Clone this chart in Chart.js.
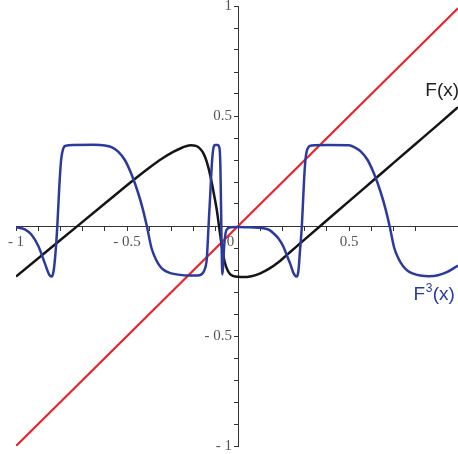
<!DOCTYPE html>
<html>
<head>
<meta charset="utf-8">
<script src="https://cdn.jsdelivr.net/npm/chart.js@4"></script>
<style>
html,body{margin:0;padding:0;background:#fff;}
#wrap{width:458px;height:454px;position:relative;}
</style>
</head>
<body>
<div id="wrap"><canvas id="c" width="458" height="454"></canvas></div>
<script>
// Identity line y = x (two end points)
const redX = [-1, 0.99];
const redY = [-1, 0.99];

// F(x) black curve
const fX = [-1.0,-0.8,-0.6,-0.471,-0.4,-0.34,-0.29,-0.25,-0.215,-0.19,-0.17,-0.155,-0.141,-0.13,-0.118,-0.107,-0.096,-0.086,-0.073,-0.06,-0.048,-0.035,-0.02,0.0,0.02,0.06,0.1,0.14,0.18,0.22,0.26,0.3,0.37,0.5,0.6,0.7,0.8,0.9,0.99];
const fY = [-0.23,-0.064,0.102,0.209,0.265,0.308,0.338,0.357,0.367,0.364,0.35,0.328,0.292,0.25,0.194,0.135,0.073,0.0,-0.094,-0.165,-0.2,-0.22,-0.228,-0.231,-0.232,-0.228,-0.215,-0.194,-0.166,-0.131,-0.096,-0.061,0.0,0.113,0.2,0.287,0.374,0.461,0.54];

// F^3(x) blue curve
const f3X = [-1.0,-0.96,-0.93,-0.9,-0.87,-0.85,-0.839,-0.83,-0.822,-0.814,-0.805,-0.797,-0.788,-0.775,-0.74,-0.65,-0.6,-0.57,-0.54,-0.51,-0.48,-0.45,-0.43,-0.411,-0.39,-0.37,-0.35,-0.33,-0.305,-0.27,-0.22,-0.185,-0.165,-0.156,-0.148,-0.141,-0.134,-0.126,-0.118,-0.111,-0.104,-0.092,-0.084,-0.08,-0.077,-0.074,-0.071,-0.068,-0.063,-0.056,-0.048,-0.035,0.0,0.054,0.114,0.14,0.159,0.18,0.204,0.22,0.234,0.25,0.264,0.272,0.278,0.287,0.297,0.303,0.309,0.318,0.332,0.4,0.5,0.523,0.553,0.583,0.613,0.643,0.663,0.682,0.703,0.723,0.743,0.763,0.785,0.82,0.86,0.9,0.94,0.99];
const f3Y = [-0.005,-0.015,-0.04,-0.09,-0.17,-0.222,-0.23,-0.2,-0.12,0.0,0.18,0.30,0.35,0.365,0.368,0.369,0.366,0.358,0.338,0.3,0.235,0.15,0.08,0.0,-0.1,-0.152,-0.185,-0.203,-0.214,-0.221,-0.225,-0.225,-0.22,-0.21,-0.19,-0.15,-0.018,0.133,0.285,0.355,0.368,0.368,0.355,0.28,0.1,-0.1,-0.22,-0.19,-0.094,-0.03,-0.012,-0.006,-0.004,-0.006,-0.01,-0.018,-0.033,-0.055,-0.094,-0.135,-0.17,-0.215,-0.23,-0.2,-0.12,0.0,0.21,0.3,0.34,0.36,0.366,0.368,0.367,0.358,0.338,0.3,0.235,0.15,0.08,0.0,-0.1,-0.15,-0.183,-0.203,-0.215,-0.225,-0.228,-0.224,-0.21,-0.18];

const xLabelVals = [-1, -0.5, 0, 0.5];
const yLabelVals = [-1, -0.5, 0.5, 1];

const pts = (xs, ys) => xs.map((x, i) => ({x: x, y: ys[i]}));
const near = (v, arr) => arr.find(a => Math.abs(a - v) < 1e-6);
const fmt = v => (v < 0 ? '- ' + String(Math.abs(v)) : String(v));

const labelPlugin = {
  id: 'curveLabels',
  afterDatasetsDraw(chart) {
    const ctx = chart.ctx;
    const xs = chart.scales.x, ys = chart.scales.y;
    ctx.save();
    ctx.textBaseline = 'alphabetic';
    ctx.textAlign = 'left';
    ctx.font = '19px "Liberation Sans", Arial, sans-serif';
    ctx.fillStyle = '#222';
    ctx.fillText('F(x)', xs.getPixelForValue(0.843), ys.getPixelForValue(0.59));
    ctx.fillStyle = '#2b3a9c';
    const bx = xs.getPixelForValue(0.79), by = ys.getPixelForValue(-0.335);
    ctx.fillText('F', bx, by);
    const w = ctx.measureText('F').width;
    ctx.font = '12px "Liberation Sans", Arial, sans-serif';
    ctx.fillText('3', bx + w + 0.5, by - 8);
    ctx.font = '19px "Liberation Sans", Arial, sans-serif';
    ctx.fillText('(x)', bx + w + 7.5, by);
    ctx.restore();
  }
};

new Chart(document.getElementById('c'), {
  type: 'scatter',
  data: {
    datasets: [
      {label: 'F3', data: pts(f3X, f3Y), showLine: true, borderColor: '#2b3a9c', borderWidth: 2.5, pointRadius: 0, cubicInterpolationMode: 'monotone', order: 1},
      {label: 'F', data: pts(fX, fY), showLine: true, borderColor: '#151515', borderWidth: 2.5, pointRadius: 0, cubicInterpolationMode: 'monotone', order: 2},
      {label: 'id', data: pts(redX, redY), showLine: true, borderColor: '#e8242c', borderWidth: 2.2, pointRadius: 0, order: 3}
    ]
  },
  options: {
    responsive: false,
    animation: false,
    devicePixelRatio: 1,
    layout: {padding: {left: 16, right: 0, top: 6, bottom: 8}},
    plugins: {legend: {display: false}, tooltip: {enabled: false}},
    scales: {
      x: {
        type: 'linear', min: -1, max: 0.99,
        position: {y: 0},
        afterFit: s => { s.height = 0; s.paddingLeft = 0; s.paddingRight = 0; s.paddingTop = 0; s.paddingBottom = 0; },
        border: {display: true, color: '#333', width: 1},
        grid: {drawOnChartArea: false, drawTicks: true, tickLength: 4, color: '#333', tickWidth: 1},
        ticks: {
          stepSize: 0.1, autoSkip: false, maxRotation: 0, padding: 3,
          color: '#555', font: {family: '"Liberation Serif", "Times New Roman", serif', size: 15},
          callback: v => { const m = near(v, xLabelVals); if (m === undefined) return ''; return m === 0 ? '0\u2002\u2002' : fmt(m); }
        }
      },
      y: {
        type: 'linear', min: -1, max: 1,
        position: {x: 0},
        afterFit: s => { s.width = 0; s.paddingLeft = 0; s.paddingRight = 0; s.paddingTop = 0; s.paddingBottom = 0; },
        border: {display: true, color: '#333', width: 1},
        grid: {drawOnChartArea: false, drawTicks: true, tickLength: 4, color: '#333', tickWidth: 1},
        ticks: {
          stepSize: 0.1, autoSkip: false, padding: 10,
          color: '#555', font: {family: '"Liberation Serif", "Times New Roman", serif', size: 15},
          callback: v => { const m = near(v, yLabelVals); return m === undefined ? '' : fmt(m) + '\u2009\u2009'; }
        }
      }
    }
  },
  plugins: [labelPlugin]
});
</script>
</body>
</html>
